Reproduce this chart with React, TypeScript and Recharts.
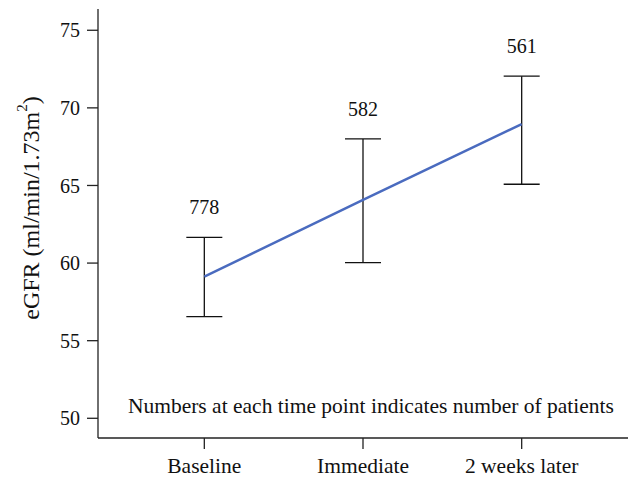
import React from 'react';
import { LineChart, Line, XAxis, YAxis, ErrorBar, LabelList, ReferenceDot } from 'recharts';

const categories = ['Baseline', 'Immediate', '2 weeks later'];
const means = [59.12, 64.07, 68.96];
const lowers = [56.55, 60.03, 65.08];
const uppers = [61.66, 68.0, 72.04];
const patients = ['778', '582', '561'];
const yTicks = [50, 55, 60, 65, 70, 75];
const note = 'Numbers at each time point indicates number of patients';

const data = categories.map((c, i) => ({
  idx: i,
  name: c,
  mean: means[i],
  upper: uppers[i],
  n: patients[i],
  err: [means[i] - lowers[i], uppers[i] - means[i]],
}));

const FONT = '"Liberation Serif", "Times New Roman", serif';

const YLabel = (props: any) => {
  const cx = 31;
  const cy = 208;
  return (
    <text
      x={cx}
      y={cy}
      transform={`rotate(-90, ${cx}, ${cy})`}
      textAnchor="middle"
      dominantBaseline="central"
      fontFamily={FONT}
      fontSize={24}
      fill="#111"
    >
      eGFR (ml/min/1.73m
      <tspan dy={-9} fontSize={15}>2</tspan>
      <tspan dy={9}>)</tspan>
    </text>
  );
};

export default function App() {
  return (
    <div style={{ position: 'absolute', left: 0, top: 0, width: 630, height: 481 }}>
      <LineChart
        width={630}
        height={481}
        data={data}
        margin={{ top: 9, right: 2, bottom: 8, left: 38 }}
      >
        <XAxis
          dataKey="idx"
          type="number"
          domain={[-0.67, 2.67]}
          ticks={[0, 1, 2]}
          tickFormatter={(v: number) => categories[v]}
          height={35}
          tickSize={11}
          tickMargin={9}
          stroke="#222"
          strokeWidth={1.3}
          tick={{ fill: '#111', fontFamily: FONT, fontSize: 21.5 }}
          allowDataOverflow
        />
        <YAxis
          type="number"
          domain={[48.73, 76.37]}
          ticks={yTicks}
          width={60}
          tickSize={11}
          tickMargin={7}
          stroke="#222"
          strokeWidth={1.3}
          tick={{ fill: '#111', fontFamily: FONT, fontSize: 20 }}
          allowDataOverflow
          label={<YLabel />}
        />
        <Line
          dataKey="upper"
          stroke="none"
          dot={false}
          activeDot={false}
          isAnimationActive={false}
        >
          <LabelList
            dataKey="n"
            position="top"
            offset={23}
            fill="#111"
            fontFamily={FONT}
            fontSize={20}
          />
        </Line>
        <Line
          dataKey="mean"
          stroke="#4a6bbf"
          strokeWidth={2.5}
          dot={false}
          activeDot={false}
          isAnimationActive={false}
        >
          <ErrorBar dataKey="err" width={18} stroke="#111" strokeWidth={1.3} direction="y" />
        </Line>
        <ReferenceDot
          x={1.05}
          y={50}
          r={0}
          fill="none"
          stroke="none"
          label={{ value: note, position: 'top', offset: 5, fill: '#111', fontFamily: FONT, fontSize: 21.5 }}
        />
      </LineChart>
    </div>
  );
}
